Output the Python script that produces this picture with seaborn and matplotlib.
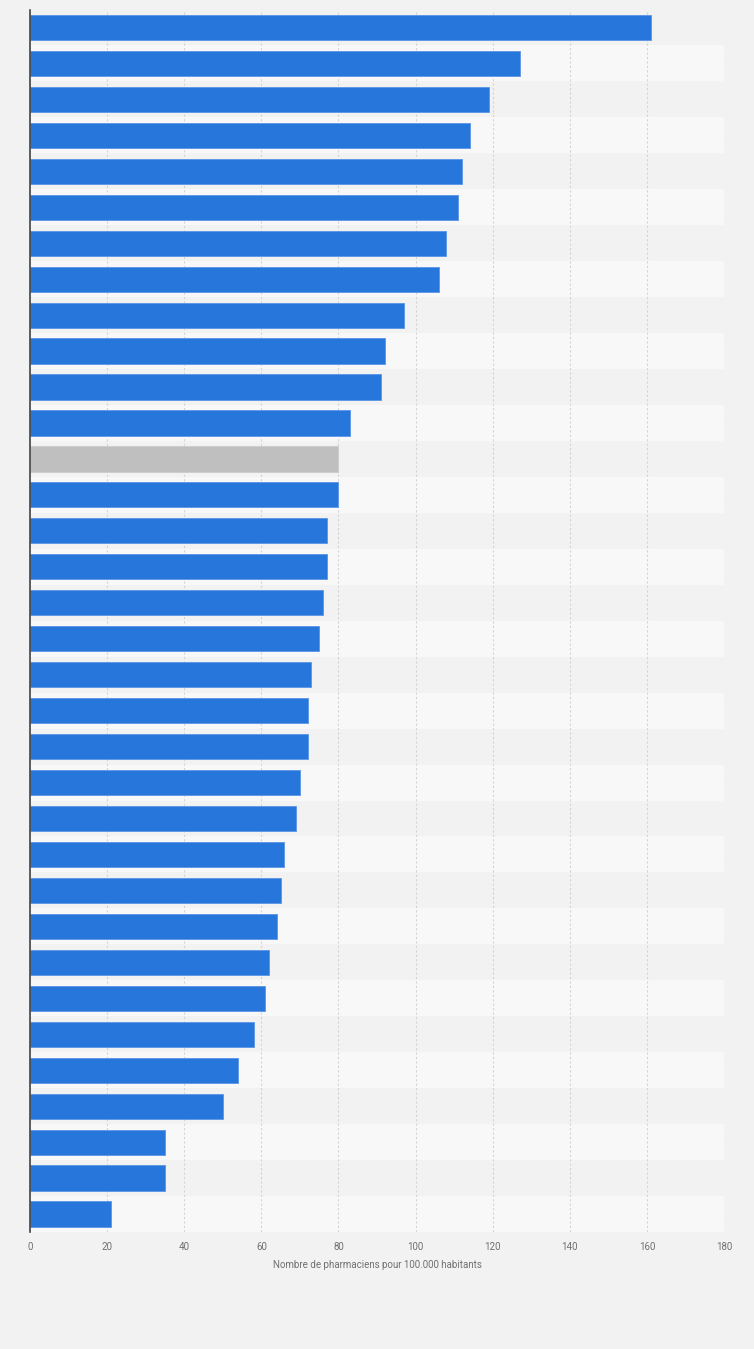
import matplotlib
matplotlib.use('Agg')
import matplotlib.pyplot as plt
import pandas as pd
import seaborn as sns

# values (no category labels are shown in the chart)
ranks = [str(i) for i in range(1, 35)]
values = [161, 127, 119, 114, 112, 111, 108, 106, 97, 92, 91, 83, 80, 80, 77, 77, 76,
          75, 73, 72, 72, 70, 69, 66, 65, 64, 62, 61, 58, 54, 50, 35, 35, 21]
highlight = [False] * 34
highlight[12] = True
x_ticks = [0, 20, 40, 60, 80, 100, 120, 140, 160, 180]
x_label = 'Nombre de pharmaciens pour 100.000 habitants'

df = pd.DataFrame({'rank': ranks, 'value': values,
                   'group': ['grey' if h else 'blue' for h in highlight]})

sns.set_style('white')
plt.rcParams['font.family'] = ['Roboto', 'DejaVu Sans']

fig = plt.figure(figsize=(7.54, 13.49), dpi=100, facecolor='#f2f2f2')
ax = fig.add_axes([30 / 754, 1 - 1232 / 1349, 694 / 754, (1232 - 9.5) / 1349])
ax.set_facecolor('#f2f2f2')

# alternating row bands
for i in range(len(ranks)):
    if i % 2 == 1:
        ax.axhspan(i - 0.5, i + 0.5, color='#f8f8f8', zorder=0, lw=0)

sns.barplot(data=df, x='value', y='rank', hue='group', orient='h',
            palette={'blue': '#2776db', 'grey': '#bfbfbf'}, width=0.7,
            saturation=1, edgecolor='#5a95e6', linewidth=0.6, legend=False,
            ax=ax, zorder=3)
for bar in ax.patches:
    if bar.get_facecolor()[0] > 0.5:
        bar.set_edgecolor('#cccccc')

ax.set_xlim(0, 180)
ax.set_ylim(len(ranks) - 0.5, -0.5)
ax.set_xticks(x_ticks)
ax.set_xticklabels([str(t) for t in x_ticks], fontsize=7, color='#707070')
ax.tick_params(axis='x', length=0, pad=7)
ax.set_yticks([])
ax.set_ylabel('')
ax.set_xlabel(x_label, fontsize=7, color='#707070', labelpad=6)
ax.grid(axis='x', color='#d4d4d4', linestyle=(0, (2, 2)), linewidth=0.8, zorder=1)
ax.set_axisbelow(True)

for s in ['top', 'right', 'bottom']:
    ax.spines[s].set_visible(False)
ax.spines['left'].set_color('#444444')
ax.spines['left'].set_linewidth(1.2)
ax.spines['left'].set_zorder(5)

fig.savefig('out.png', dpi=100, facecolor=fig.get_facecolor())
